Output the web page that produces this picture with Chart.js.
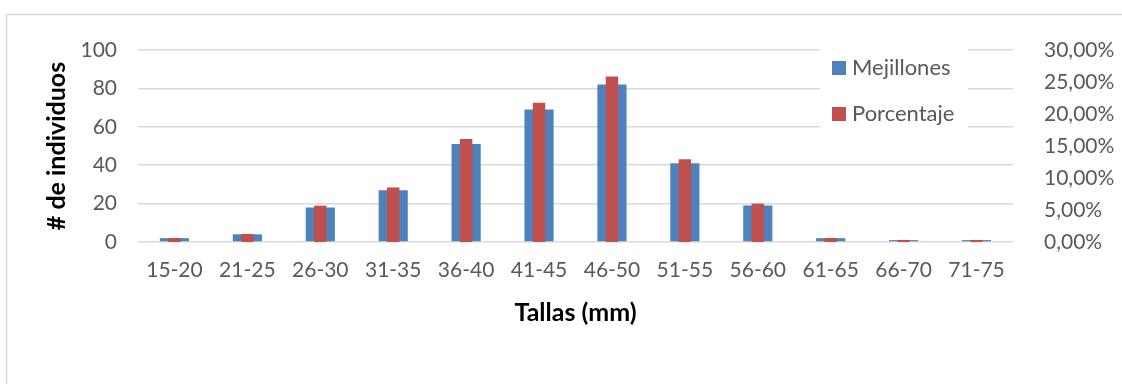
<!DOCTYPE html>
<html>
<head>
<meta charset="utf-8">
<title>Tallas de mejillones</title>
<script src="https://cdn.jsdelivr.net/npm/chart.js@4.4.0/dist/chart.umd.min.js"></script>
<style>
  html, body { margin: 0; padding: 0; background: #fff; overflow: hidden; }
  #wrap { width: 1122px; height: 384px; position: relative; }
</style>
</head>
<body>
<div id="wrap">
  <canvas id="myChart" width="1122" height="384"></canvas>
</div>
<script>
// datos
const tallas = ['15-20', '21-25', '26-30', '31-35', '36-40', '41-45', '46-50', '51-55', '56-60', '61-65', '66-70', '71-75'];
const mejillones = [2, 4, 18, 27, 51, 69, 82, 41, 19, 2, 1, 1];
const porcentaje = [0.63, 1.26, 5.68, 8.52, 16.09, 21.77, 25.87, 12.93, 5.99, 0.63, 0.32, 0.32];

const azul = '#4F81BD';
const rojo = '#C0504D';
const gris = '#595959';
const fuente = 'Lato, "Open Sans", sans-serif';

// marco del grafico + leyenda dentro del area
const marco = {
  id: 'marco',
  beforeDraw(chart) {
    const ctx = chart.ctx;
    ctx.save();
    ctx.fillStyle = '#fff';
    ctx.fillRect(0, 0, chart.width, chart.height);
    ctx.strokeStyle = '#D9D9D9';
    ctx.lineWidth = 1.5;
    ctx.strokeRect(6.5, 14.5, 1300, 600);
    ctx.restore();
  },
  afterDraw(chart) {
    const ctx = chart.ctx;
    ctx.save();
    ctx.fillStyle = '#fff';
    ctx.fillRect(820, 45, 148, 86);
    ctx.font = '22px ' + fuente;
    ctx.textBaseline = 'middle';
    chart.data.datasets.forEach(function (ds, i) {
      const y = 68 + i * 46;
      ctx.fillStyle = ds.backgroundColor;
      ctx.fillRect(832, y - 7, 14, 14);
      ctx.fillStyle = gris;
      ctx.fillText(ds.label, 852, y);
    });
    ctx.restore();
  }
};

const ctx = document.getElementById('myChart').getContext('2d');
const chart = new Chart(ctx, {
  type: 'bar',
  data: {
    labels: tallas,
    datasets: [{
      label: 'Mejillones',
      data: mejillones,
      backgroundColor: azul,
      yAxisID: 'y',
      grouped: false,
      order: 2,
      barPercentage: 0.4,
      categoryPercentage: 1
    }, {
      label: 'Porcentaje',
      data: porcentaje,
      backgroundColor: rojo,
      yAxisID: 'y1',
      grouped: false,
      order: 1,
      barPercentage: 0.17,
      categoryPercentage: 1
    }]
  },
  options: {
    responsive: false,
    animation: false,
    layout: { padding: { top: 50, left: 0, right: 0, bottom: 0 } },
    plugins: {
      legend: { display: false },
      tooltip: { enabled: false }
    },
    scales: {
      x: {
        grid: { display: false },
        border: { display: false },
        ticks: { color: gris, font: { family: fuente, size: 21 }, padding: 8, maxRotation: 0, autoSkip: false },
        title: {
          display: true,
          text: 'Tallas (mm)',
          color: '#000',
          font: { family: fuente, size: 25, weight: 'bold' },
          padding: { top: 0, bottom: 56 }
        },
        afterFit(scale) { scale.height = 142; }
      },
      y: {
        position: 'left',
        min: 0,
        max: 100,
        ticks: { stepSize: 20, color: gris, font: { family: fuente, size: 21 }, padding: 21 },
        grid: { color: '#D9D9D9', lineWidth: 1.5, drawTicks: false },
        border: { display: false },
        title: {
          display: true,
          text: '# de individuos',
          color: '#000',
          font: { family: fuente, size: 25, weight: 'bold' },
          padding: { top: 42, bottom: 0 }
        },
        afterFit(scale) { scale.width = 138; }
      },
      y1: {
        position: 'right',
        min: 0,
        max: 30,
        ticks: {
          stepSize: 5,
          color: gris,
          font: { family: fuente, size: 21 },
          padding: 23,
          callback: function (v) { return v.toFixed(2).replace('.', ',') + '%'; }
        },
        grid: { display: false },
        border: { display: false },
        afterFit(scale) { scale.width = 109; }
      }
    }
  },
  plugins: [marco]
});
</script>
</body>
</html>
